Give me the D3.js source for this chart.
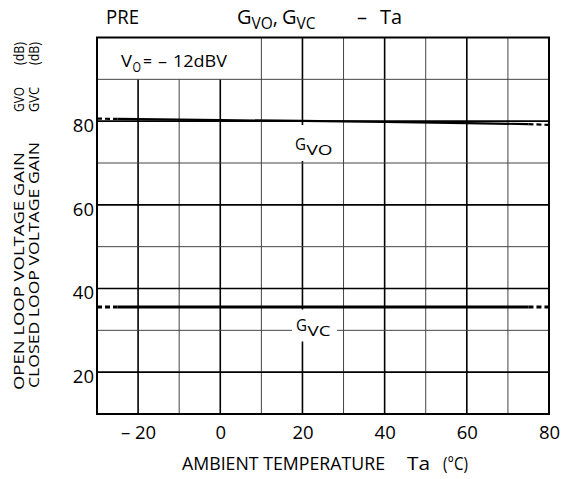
<!DOCTYPE html>
<html><head><meta charset="utf-8">
<script src="https://cdn.jsdelivr.net/npm/d3@7"></script>
<style>body{margin:0;background:#fff}svg{display:block}text{font-family:"Open Sans","Noto Sans",sans-serif;fill:#000}</style>
</head><body><svg id="c" width="561" height="479"></svg>
<script>
// ---- data ----
const temps   = [-30, -25, -20, 0, 20, 40, 60, 75, 80];
const gvo     = [80.6, 80.55, 80.5, 80.25, 80.05, 79.8, 79.55, 79.3, 79.1];
const gvc     = [35.6, 35.6, 35.6, 35.6, 35.6, 35.6, 35.6, 35.6, 35.6];
const solidFrom = -25, solidTo = 75;
const xTicks  = [-20, 0, 20, 40, 60, 80];
const xTickLabels = ["– 20", "0", "20", "40", "60", "80"];
const yTicks  = [20, 40, 60, 80];
const xGrid   = [-20, -10, 0, 10, 20, 30, 40, 50, 60, 70];
const yGrid   = [20, 30, 40, 50, 60, 70, 80, 90];

const FONT = '"Open Sans","Noto Sans",sans-serif';
const svg = d3.select("#c");
const x = d3.scaleLinear().domain([-30, 80]).range([97, 549]);
const y = d3.scaleLinear().domain([10, 100]).range([414, 37.5]);

// gridlines
const isMajor = v => v % 20 === 0;
svg.append("g").selectAll("line").data(xGrid).join("line")
  .attr("x1", d => x(d)).attr("x2", d => x(d))
  .attr("y1", d => (d <= 0 ? y(90) : y(100))).attr("y2", y(10))
  .attr("stroke", d => isMajor(d) ? "#000" : "#444")
  .attr("stroke-width", d => isMajor(d) ? 1.6 : 1);
svg.append("g").selectAll("line").data(yGrid).join("line")
  .attr("x1", x(-30)).attr("x2", x(80))
  .attr("y1", d => y(d)).attr("y2", d => y(d))
  .attr("stroke", d => isMajor(d) ? "#000" : "#444")
  .attr("stroke-width", d => isMajor(d) ? 1.6 : 1);

// white gaps behind curve labels
svg.append("rect").attr("x", 292).attr("y", 125).attr("width", 42).attr("height", 36).attr("fill", "#fff");
svg.append("rect").attr("x", 292).attr("y", 309.5).attr("width", 45).attr("height", 32).attr("fill", "#fff");

// frame
svg.append("rect").attr("x", x(-30)).attr("y", y(100))
  .attr("width", x(80) - x(-30)).attr("height", y(10) - y(100))
  .attr("fill", "none").attr("stroke", "#000").attr("stroke-width", 2);

// curves
const line = d3.line().x(d => x(d[0])).y(d => y(d[1]));
function drawCurve(vals, w) {
  const pts = temps.map((t, i) => [t, vals[i]]);
  const solid = pts.filter(p => p[0] >= solidFrom && p[0] <= solidTo);
  const left = pts.filter(p => p[0] <= solidFrom);
  const right = pts.filter(p => p[0] >= solidTo);
  svg.append("path").attr("d", line(solid)).attr("fill", "none").attr("stroke", "#000").attr("stroke-width", w);
  [left, right].forEach(seg => svg.append("path").attr("d", line(seg)).attr("fill", "none")
    .attr("stroke", "#000").attr("stroke-width", w).attr("stroke-dasharray", "5,3"));
}
drawCurve(gvo, 2.2);
drawCurve(gvc, 3);

// axes
const ya = svg.append("g").attr("transform", `translate(${x(-30)},0)`)
  .call(d3.axisLeft(y).tickValues(yTicks).tickSize(0).tickPadding(3).tickFormat(d3.format("d")));
ya.select(".domain").remove();
ya.selectAll("text").attr("font-size", 18.5).attr("dy", "0.72em").attr("y", -3)
  .style("font-family", FONT);
const xa = svg.append("g").attr("transform", `translate(0,${y(10)})`)
  .call(d3.axisBottom(x).tickValues(xTicks).tickSize(0).tickPadding(12)
    .tickFormat((d, i) => xTickLabels[i]));
xa.select(".domain").remove();
xa.selectAll("text").attr("font-size", 18.5)
  .style("font-family", FONT);

// text helpers
function txt(s, px, py, size, len, opts = {}) {
  const t = svg.append("text").attr("x", px).attr("y", py).attr("font-size", size).text(s);
  if (len) t.attr("textLength", len).attr("lengthAdjust", "spacingAndGlyphs");
  if (opts.rot) t.attr("transform", `rotate(-90 ${px} ${py})`);
  return t;
}
// multi-part text in one element: parts = [[string, x, y, size, len]]
function multi(parts) {
  const t = svg.append("text");
  parts.forEach(p => {
    const s = t.append("tspan").attr("x", p[1]).attr("y", p[2]).attr("font-size", p[3]).text(p[0]);
    if (p[4]) s.attr("textLength", p[4]).attr("lengthAdjust", "spacingAndGlyphs");
  });
  return t;
}

// title
txt("PRE", 106, 24, 19.5, 33);
const title = svg.append("text").attr("x", 237).attr("y", 24).attr("font-size", 20);
title.append("tspan").text("G");
title.append("tspan").attr("font-size", 15.5).attr("dy", 5).text("VO");
title.append("tspan").attr("dy", -5).text(",");
title.append("tspan").attr("dx", 4).text("G");
title.append("tspan").attr("font-size", 15.5).attr("dy", 5).text("VC");
txt("–", 357, 24, 20, 10);
txt("Ta", 380, 24, 20, 22);

// V_O label
multi([["V", 121, 67, 16, 11], ["O", 132.5, 72, 14, 8.5], ["=", 143, 67, 16, 9],
       ["–", 158, 67, 16, 9], ["12dBV", 173, 67, 16, 54]]);

// curve labels
multi([["G", 295, 150, 16, 11], ["VO", 306.5, 155, 15, 26]]);
multi([["G", 296, 331, 16, 11], ["VC", 307.5, 336, 15, 23]]);

// y-axis title (rotated)
txt("OPEN LOOP VOLTAGE GAIN", 23.5, 390, 15, 238, {rot: true});
txt("GVO", 23.5, 112, 15, 25, {rot: true});
txt("(dB)", 23.5, 65, 15, 23, {rot: true});
txt("CLOSED LOOP VOLTAGE GAIN", 38.5, 388, 15, 246, {rot: true});
txt("GVC", 38.5, 112, 15, 25, {rot: true});
txt("(dB)", 38.5, 65, 15, 23, {rot: true});

// x-axis title
txt("AMBIENT TEMPERATURE", 182, 470, 17.5, 203);
txt("Ta", 407, 470, 17.5, 23);
txt("(°C)", 443, 470, 17.5, 25);
</script></body></html>
